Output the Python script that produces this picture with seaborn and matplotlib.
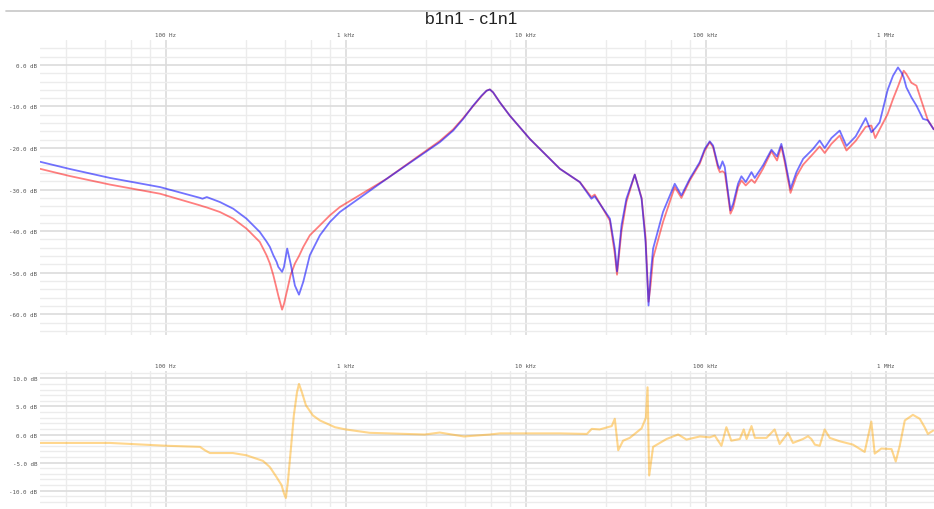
import matplotlib
matplotlib.use('Agg')
import matplotlib.pyplot as plt
import seaborn as sns
from matplotlib.lines import Line2D
from matplotlib.ticker import NullFormatter

# Frequency response of the two channels (Hz / dB)
freq_top = [20, 29, 49, 93, 155, 160, 169, 200, 237, 281,
            333, 363, 379, 396, 413, 422, 443, 454, 473, 494,
            522, 550, 581, 632, 719, 817, 928, 1690, 2584, 3334,
            3956, 4496, 5107, 5688, 6067, 6325, 6594, 7186, 8165, 9283,
            10550, 11990, 15500, 20000, 23200, 24200, 29400, 31300, 32200, 34100,
            36300, 40400, 44100, 46400, 48200, 49500, 51100, 58000, 67400, 73400,
            81700, 92800, 99000, 105500, 110100, 117300, 120000, 124200, 127900, 131700,
            137500, 142300, 151500, 158200, 167200, 179900, 187600, 208400, 232300, 249500,
            263700, 275300, 296500, 320000, 348500, 395800, 430800, 459400, 500300, 556500,
            606800, 682600, 776000, 835000, 877000, 928000, 1028000, 1101000, 1173000, 1230000,
            1262000, 1306000, 1393000, 1486000, 1616000, 1716000, 1853000]
b1n1 = [-23.3, -25.0, -27.2, -29.4, -32.0, -32.2, -31.8, -33.0, -34.6, -37.0,
        -40.2, -42.5, -43.8, -45.8, -47.4, -48.6, -49.8, -48.6, -44.2, -47.8,
        -53.1, -55.3, -52.2, -45.8, -41.0, -37.8, -35.4, -27.4, -21.9, -18.6,
        -15.8, -13.0, -9.8, -7.4, -6.2, -5.9, -6.6, -9.0, -12.2, -15.0,
        -17.8, -20.2, -25.0, -28.2, -32.2, -31.6, -37.0, -44.2, -49.7, -38.6,
        -32.2, -26.4, -32.2, -42.6, -57.9, -50.6, -44.2, -35.4, -28.6, -31.4,
        -27.4, -23.4, -20.2, -18.4, -19.4, -24.2, -25.0, -23.2, -24.6, -29.0,
        -35.0, -33.4, -28.6, -26.8, -28.2, -25.8, -27.2, -24.2, -20.4, -22.0,
        -19.0, -22.6, -29.8, -25.8, -22.6, -20.2, -18.2, -20.0, -17.6, -15.8,
        -19.5, -17.2, -12.8, -16.2, -15.2, -13.8, -6.0, -2.6, -0.6, -1.9,
        -3.0, -5.4, -7.8, -9.8, -13.0, -13.3, -15.5]
c1n1 = [-25.0, -26.7, -28.8, -31.0, -33.8, -34.0, -34.3, -35.4, -37.0, -39.4,
        -42.6, -45.8, -47.8, -50.6, -53.8, -55.5, -58.9, -57.5, -54.2, -50.6,
        -47.8, -46.0, -43.8, -41.0, -38.6, -36.2, -34.2, -27.4, -21.7, -18.3,
        -15.5, -12.8, -9.9, -7.5, -6.2, -5.9, -6.6, -9.0, -12.2, -15.0,
        -17.8, -20.2, -25.0, -28.2, -31.8, -31.2, -37.5, -45.5, -50.5, -40.0,
        -33.0, -26.4, -32.0, -41.5, -57.0, -53.0, -46.5, -37.8, -29.4, -32.0,
        -27.8, -23.8, -20.6, -18.6, -19.8, -24.8, -25.8, -25.6, -26.0, -29.8,
        -35.8, -34.4, -29.4, -27.8, -29.0, -27.6, -28.4, -25.0, -20.8, -23.0,
        -19.6, -23.4, -30.8, -26.8, -24.0, -21.4, -19.6, -21.2, -19.0, -17.0,
        -20.6, -18.3, -14.9, -14.6, -17.6, -15.5, -11.8, -8.2, -5.2, -2.8,
        -1.4, -2.2, -4.3, -5.0, -9.8, -13.2, -15.5]

# Difference trace (bottom panel)
freq_diff = [20, 49, 100, 155, 165, 176, 236, 281, 347, 379,
             413, 440, 454, 465, 477, 496, 515, 536, 550, 571,
             601, 657, 719, 871, 1000, 1360, 2750, 3330, 4540, 6330,
             7195, 15500, 21900, 23300, 25800, 30100, 31300, 32700, 34800, 37900,
             44100, 46600, 47600, 48600, 51100, 60700, 70400, 78300, 92900, 105500,
             112500, 122500, 130500, 139000, 155000, 163000, 169000, 180000, 188000, 218000,
             242000, 258000, 287000, 306000, 348000, 371000, 387000, 405000, 431000, 459000,
             490000, 556000, 659000, 766000, 834000, 871000, 948000, 1080000, 1140000, 1200000,
             1280000, 1420000, 1550000, 1650000, 1720000, 1840000]
diff = [-1.5, -1.5, -2.0, -2.2, -2.8, -3.3, -3.3, -3.7, -4.7, -5.8,
        -7.6, -9.0, -10.5, -11.3, -8.5, -2.5, 3.4, 7.5, 9.0, 7.5,
        5.2, 3.4, 2.5, 1.3, 0.9, 0.3, 0.0, 0.35, -0.35, 0.0,
        0.2, 0.2, 0.1, 1.0, 0.9, 1.5, 2.8, -2.8, -1.1, -0.6,
        1.1, 3.0, 8.4, -7.3, -2.2, -0.8, 0.0, -0.9, -0.35, -0.5,
        -0.2, -2.0, 1.3, -1.1, -0.8, 0.9, -0.8, 1.5, -0.6, -0.6,
        0.9, -1.7, 0.3, -1.5, -0.8, -0.3, -0.8, -1.8, -2.0, 0.9,
        -0.6, -1.2, -1.8, -3.1, 2.3, -3.4, -2.5, -2.6, -4.8, -2.0,
        2.5, 3.5, 2.8, 1.3, 0.1, 0.7]

major_freqs = [100, 1000, 10000, 100000, 1000000]
major_labels = ['100 Hz', '1 kHz', '10 kHz', '100 kHz', '1 MHz']
minor_mult = [2.8, 4.6, 6.4, 8.2]

sns.set_style('white')
fig = plt.figure(figsize=(9.34, 5.10), dpi=100)
ax_top = fig.add_axes([40 / 934, 1 - 336 / 510, 1 - 40 / 934, 295 / 510])
ax_bot = fig.add_axes([40 / 934, 1 - 508 / 510, 1 - 40 / 934, 136 / 510])

sns.lineplot(x=freq_top, y=c1n1, ax=ax_top, color='red', alpha=0.5, lw=1.3)
sns.lineplot(x=freq_top, y=b1n1, ax=ax_top, color='blue', alpha=0.55, lw=1.3)
sns.lineplot(x=freq_diff, y=diff, ax=ax_bot, color='orange', alpha=0.45, lw=1.5)

mono = {'family': 'DejaVu Sans Mono', 'size': 4.2, 'color': '#555555'}
minor_x = [m * 10 ** d for d in range(1, 7) for m in minor_mult]


def style_axis(ax, ylim, major_y, minor_y):
    ax.set_xscale('log')
    ax.set_xlim(20, 1.86e6)
    ax.set_ylim(*ylim)
    ax.set_xticks(major_freqs)
    ax.set_xticklabels(major_labels, fontdict=mono)
    ax.set_xticks([f for f in minor_x if 20 < f < 1.86e6], minor=True)
    ax.xaxis.set_minor_formatter(NullFormatter())
    ax.xaxis.tick_top()
    ax.set_yticks(major_y)
    ax.set_yticklabels([f'{v:.1f} dB' for v in major_y], fontdict=mono)
    ax.set_yticks(minor_y, minor=True)
    ax.tick_params(which='both', length=0, pad=2)
    ax.grid(which='major', color='#dcdcdc', lw=1.2)
    ax.grid(which='minor', color='#ececec', lw=1.0)
    ax.set_axisbelow(True)
    for s in ax.spines.values():
        s.set_visible(False)
    ax.set_xlabel('')
    ax.set_ylabel('')


style_axis(ax_top, (-65, 6), list(range(0, -61, -10)),
           [v for v in range(-64, 6, 2) if v % 10 != 0])
style_axis(ax_bot, (-12.9, 11.3), [10, 5, 0, -5, -10],
           [v for v in range(-12, 12) if v % 5 != 0])

fig.add_artist(Line2D([6 / 934, 1], [1 - 12 / 510, 1 - 12 / 510],
                      color='#cccccc', lw=1.3, transform=fig.transFigure))
fig.text(471 / 934, 1 - 19.5 / 510, 'b1n1 - c1n1', ha='center', va='center',
         fontsize=12.5, family='Liberation Sans', color='#222222')

fig.savefig('out.png', dpi=100)
